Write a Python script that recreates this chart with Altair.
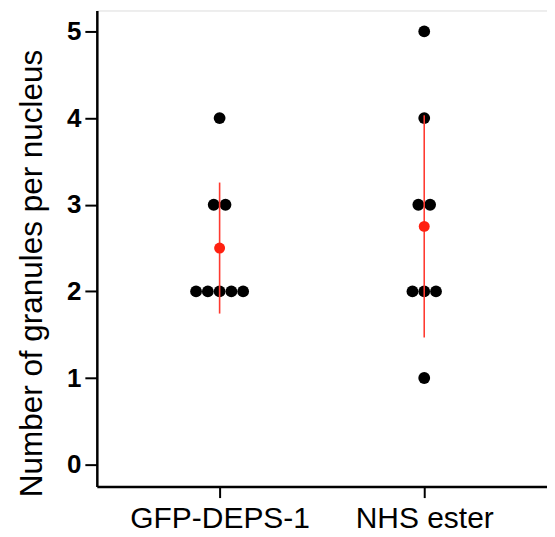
import altair as alt
import pandas as pd

categories = ["GFP-DEPS-1", "NHS ester"]
gfp_values = [4, 3, 3, 2, 2, 2, 2, 2]
nhs_values = [5, 4, 3, 3, 2, 2, 2, 1]
means = [2.5, 2.75]
sds = [0.756, 1.282]
y_ticks = [0, 1, 2, 3, 4, 5]

spacing = 0.0575  # horizontal gap between stacked dots (x units)

rows = []
for ci, (cat, vals) in enumerate(zip(categories, [gfp_values, nhs_values])):
    counts = {}
    for v in vals:
        counts[v] = counts.get(v, 0) + 1
    seen = {}
    for v in vals:
        i = seen.get(v, 0)
        seen[v] = i + 1
        n = counts[v]
        rows.append({"cat": cat, "pos": ci + 1 + (i - (n - 1) / 2) * spacing, "value": v})
dots = pd.DataFrame(rows)

summ = pd.DataFrame({
    "cat": categories,
    "pos": [i + 1 for i in range(len(categories))],
    "mean": means,
    "lo": [m - s for m, s in zip(means, sds)],
    "hi": [m + s for m, s in zip(means, sds)],
})

label_expr = "datum.value == 1 ? '%s' : (datum.value == 2 ? '%s' : '')" % (categories[0], categories[1])

x_scale = alt.Scale(domain=[0.4, 2.6], nice=False, zero=False)
y_scale = alt.Scale(domain=[-0.253, 5.242], nice=False, zero=False)

x_axis = alt.Axis(
    values=[1, 2], labelExpr=label_expr, title=None, grid=False,
    tickSize=11, tickWidth=2, tickColor="black",
    domainColor="black", domainWidth=2.5,
    labelFont="Liberation Sans", labelFontSize=30, labelColor="black",
    labelPadding=6, labelFlush=False, labelOverlap=False, labelLimit=0,
)
y_axis = alt.Axis(
    values=y_ticks, format="d", title="Number of granules per nucleus", grid=False,
    tickSize=12, tickWidth=2, tickColor="black",
    domainColor="black", domainWidth=2.5,
    labelFont="Liberation Sans", labelFontSize=26, labelFontWeight="bold",
    labelColor="black", labelPadding=4, labelFlush=False,
    titleFont="Liberation Sans", titleFontSize=31.5, titleFontWeight="normal",
    titleColor="black", titleX=-55, titleY=263, titleBaseline="alphabetic",
)

points = alt.Chart(dots).mark_circle(size=140, color="black", opacity=1).encode(
    x=alt.X("pos:Q", scale=x_scale, axis=x_axis),
    y=alt.Y("value:Q", scale=y_scale, axis=y_axis),
)

bars = alt.Chart(summ).mark_rule(color="#ff3a30", strokeWidth=1.6).encode(
    x=alt.X("pos:Q", scale=x_scale),
    y=alt.Y("lo:Q", scale=y_scale),
    y2="hi:Q",
)

mean_pts = alt.Chart(summ).mark_circle(size=120, color="#ff2010", opacity=1).encode(
    x=alt.X("pos:Q", scale=x_scale),
    y=alt.Y("mean:Q", scale=y_scale),
)

chart = alt.layer(points, bars, mean_pts).properties(
    width=451, height=477,
    autosize=alt.AutoSizeParams(type="none"),
    padding={"left": 89, "top": 2, "right": 0, "bottom": 42},
).configure_view(stroke=None).configure(background="white")

chart.save("out.html", embed_options={"renderer": "svg", "actions": False})
